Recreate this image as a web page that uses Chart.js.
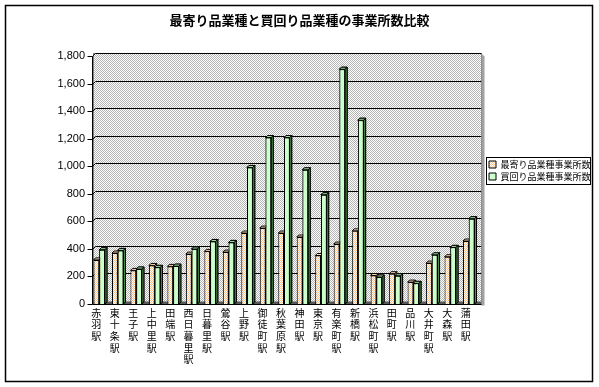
<!DOCTYPE html>
<html lang="ja">
<head>
  <meta charset="UTF-8">
  <title>最寄り品業種と買回り品業種の事業所数比較</title>
  <script src="https://cdn.jsdelivr.net/npm/chart.js"></script>
  <style>
    html, body { margin: 0; padding: 0; background: #fff; }
    #wrap { width: 599px; height: 387px; }
  </style>
</head>
<body>
<div id="wrap"><canvas id="chart" width="599" height="387"></canvas></div>
<script>
const stations = ['赤羽駅', '東十条駅', '王子駅', '上中里駅', '田端駅', '西日暮里駅', '日暮里駅', '鶯谷駅', '上野駅', '御徒町駅', '秋葉原駅',
  '神田駅', '東京駅', '有楽町駅', '新橋駅', '浜松町駅', '田町駅', '品川駅', '大井町駅', '大森駅', '蒲田駅'];
const nearCounts = [320, 370, 244, 280, 273, 362, 382, 377, 515, 551, 515, 486, 352, 435, 531, 207, 220, 159, 297, 343, 457];
const shoppingCounts = [394, 389, 254, 266, 275, 399, 454, 447, 991, 1208, 1208, 974, 793, 1704, 1334, 196, 205, 150, 357, 411, 619];
const yTicks = [0, 200, 400, 600, 800, 1000, 1200, 1400, 1600, 1800];

const canvas = document.getElementById('chart');
const ctx = canvas.getContext('2d');
const jp = '"Noto Sans CJK JP", "Noto Sans", sans-serif';
const DEPTH = 3;   // back wall depth
const BAR_D = 2;   // bar depth

// 2x2 dither like the old Excel fills
function dither(c1, c2) {
  const p = document.createElement('canvas');
  p.width = 2; p.height = 2;
  const g = p.getContext('2d');
  g.fillStyle = c2; g.fillRect(0, 0, 2, 2);
  g.fillStyle = c1; g.fillRect(0, 0, 1, 1); g.fillRect(1, 1, 1, 1);
  return ctx.createPattern(p, 'repeat');
}
const wallFill = dither('#b4b4b4', '#ffffff');
const nearFill = dither('#ffc48a', '#ffffff');

const faces = [
  { top: '#ffdcb8', side: '#c89060' },
  { top: '#a8e8a8', side: '#4f8f4f' }
];

function drawFaces(c, meta, f) {
  c.save();
  c.strokeStyle = '#000';
  c.lineWidth = 1;
  meta.data.forEach(bar => {
    const p = bar.getProps(['x', 'y', 'base', 'width'], true);
    const l = p.x - p.width / 2, r = p.x + p.width / 2;
    c.fillStyle = f.top;
    c.beginPath();
    c.moveTo(l, p.y);
    c.lineTo(l + BAR_D, p.y - BAR_D);
    c.lineTo(r + BAR_D, p.y - BAR_D);
    c.lineTo(r, p.y);
    c.closePath();
    c.fill(); c.stroke();
    c.fillStyle = f.side;
    c.beginPath();
    c.moveTo(r, p.y);
    c.lineTo(r + BAR_D, p.y - BAR_D);
    c.lineTo(r + BAR_D, p.base - BAR_D);
    c.lineTo(r, p.base);
    c.closePath();
    c.fill(); c.stroke();
  });
  c.restore();
}

const excel3d = {
  id: 'excel3d',
  afterLayout(chart) {
    // legend box sits a little right of the plot, like the original
    const lg = chart.legend;
    lg.left = 486; lg.right = 599; lg.width = 113;
    lg.top = 157; lg.bottom = 184; lg.height = 27;
  },
  beforeDraw(chart) {
    const c = chart.ctx;
    c.save();
    c.fillStyle = '#fff';
    c.fillRect(0, 0, chart.width, chart.height);
    c.strokeStyle = '#000';
    c.lineWidth = 1.5;
    c.strokeRect(5.5, 5.5, chart.width - 12, chart.height - 11);
    c.restore();
  },
  beforeDatasetsDraw(chart) {
    const c = chart.ctx, a = chart.chartArea, y = chart.scales.y;
    const ax = Math.round(a.left + DEPTH) + 0.5;
    const top = Math.round(y.getPixelForValue(1800)) - DEPTH + 0.5;
    const bot = Math.round(y.getPixelForValue(0)) + 0.5;
    const right = Math.round(a.right + DEPTH) + 0.5;
    c.save();
    // back wall
    c.fillStyle = wallFill;
    c.fillRect(ax, top, right - ax, bot - top);
    c.strokeStyle = '#808080';
    c.lineWidth = 1;
    c.strokeRect(ax, top, right - ax, bot - top);
    // gridlines on the back wall
    c.strokeStyle = '#000';
    yTicks.forEach(v => {
      if (v === 0) return;
      const py = Math.round(y.getPixelForValue(v)) + 0.5;
      c.beginPath();
      c.moveTo(ax - 1, py);
      c.lineTo(ax - 1 + DEPTH, py - DEPTH);
      c.lineTo(right, py - DEPTH);
      c.stroke();
      c.beginPath();
      c.moveTo(ax - 6, py);
      c.lineTo(ax - 1, py);
      c.stroke();
    });
    // floor
    c.fillStyle = '#5a5a5a';
    c.fillRect(ax, bot - DEPTH, right - ax, DEPTH);
    // right side
    c.fillStyle = '#a0a0a0';
    c.beginPath();
    c.moveTo(right, top);
    c.lineTo(right + 3, top + 3);
    c.lineTo(right + 3, bot + 1);
    c.lineTo(right, bot + 1);
    c.closePath();
    c.fill();
    // axes
    c.strokeStyle = '#000';
    c.beginPath();
    c.moveTo(ax - 1, top + DEPTH);
    c.lineTo(ax - 1, bot);
    c.lineTo(right, bot);
    c.stroke();
    c.beginPath();
    c.moveTo(ax - 6, bot);
    c.lineTo(ax - 1, bot);
    c.stroke();
    c.restore();
  },
  afterDatasetDraw(chart, args) {
    drawFaces(chart.ctx, args.meta, faces[args.index]);
  },
  afterDatasetsDraw(chart) {
    // green bars stand in front of the orange side faces
    const meta = chart.getDatasetMeta(1);
    meta.data.forEach(el => el.draw(chart.ctx));
    drawFaces(chart.ctx, meta, faces[1]);
  },
  afterDraw(chart) {
    const hb = chart.legend.legendHitBoxes;
    if (!hb || !hb.length) return;
    const c = chart.ctx;
    const l = Math.min(...hb.map(h => h.left)) - 3;
    const r = Math.min(Math.max(...hb.map(h => h.left + h.width)) + 2, 590);
    const t = hb[0].top - 3;
    const b = hb[hb.length - 1].top + hb[hb.length - 1].height + 3;
    c.save();
    c.strokeStyle = '#000';
    c.lineWidth = 1;
    c.strokeRect(Math.round(l) + 0.5, Math.round(t) + 0.5, Math.round(r - l), Math.round(b - t));
    c.restore();
  }
};

new Chart(ctx, {
  type: 'bar',
  data: {
    labels: stations.map(s => s.split('')),
    datasets: [
      {
        label: '最寄り品業種事業所数',
        data: nearCounts,
        backgroundColor: nearFill,
        borderColor: '#000',
        borderWidth: 1
      },
      {
        label: '買回り品業種事業所数',
        data: shoppingCounts,
        backgroundColor: '#ccffcc',
        borderColor: '#000',
        borderWidth: 1
      }
    ]
  },
  options: {
    responsive: false,
    animation: false,
    devicePixelRatio: 1,
    locale: 'en-US',
    layout: { padding: { left: 21, right: 21, top: 0, bottom: 0 } },
    datasets: { bar: { barPercentage: 1, categoryPercentage: 0.62 } },
    plugins: {
      title: {
        display: true,
        text: '最寄り品業種と買回り品業種の事業所数比較',
        color: '#000',
        font: { family: jp, size: 13, weight: 'bold' },
        padding: { top: 12, bottom: 28.4 }
      },
      legend: {
        position: 'right',
        maxWidth: 100,
        labels: {
          color: '#000',
          font: { family: jp, size: 9 },
          boxWidth: 7,
          boxHeight: 7,
          padding: 3
        }
      },
      tooltip: { enabled: false }
    },
    scales: {
      x: {
        grid: { display: false, drawTicks: false },
        border: { display: false },
        ticks: {
          color: '#000',
          font: { family: jp, size: 10, lineHeight: 1.17 },
          autoSkip: false,
          maxRotation: 0,
          minRotation: 0,
          padding: 3,
          labelOffset: -3
        },
        afterFit: s => { s.height = 83; }
      },
      y: {
        min: 0,
        max: 1800,
        grid: { display: false, drawTicks: false },
        border: { display: false },
        afterBuildTicks: s => { s.ticks = yTicks.map(v => ({ value: v })); },
        ticks: {
          color: '#000',
          font: { family: '"Liberation Sans", Arial, sans-serif', size: 11 },
          padding: 5
        },
        afterFit: s => { s.width = 69; }
      }
    }
  },
  plugins: [excel3d]
});
</script>
</body>
</html>
